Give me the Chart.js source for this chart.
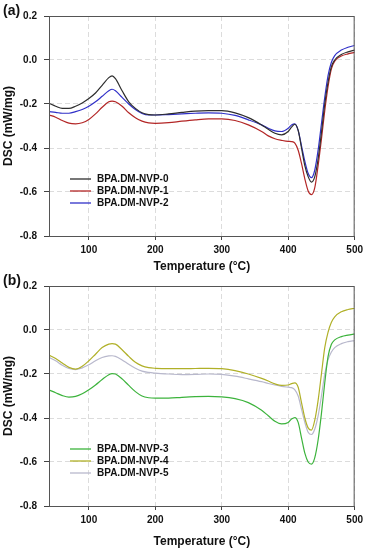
<!DOCTYPE html>
<html>
<head>
<meta charset="utf-8">
<script src="https://cdn.jsdelivr.net/npm/chart.js@4"></script>
<style>
  body { margin: 0; background: #fff; }
  canvas { position: absolute; left: 0; }
  #chartA { top: 0; }
  #chartB { top: 270px; }
</style>
</head>
<body>
<canvas id="chartA" width="367" height="275"></canvas>
<canvas id="chartB" width="367" height="280"></canvas>
<script>
const temps = [40, 50, 60, 70, 80, 90, 100, 110, 120, 130, 135, 140, 150, 160, 170, 180, 190, 200,
  220, 240, 260, 280, 300, 320, 340, 360, 370, 380, 390, 400, 405, 410, 415, 420, 425, 430, 435,
  440, 445, 450, 455, 460, 465, 470, 480, 490, 500];

const xTicks = [100, 200, 300, 400, 500];

const nvp0 = [-0.197, -0.21, -0.22, -0.22, -0.21, -0.195, -0.175, -0.15, -0.115, -0.08, -0.072, -0.085, -0.14, -0.19, -0.22, -0.24, -0.248, -0.25,
  -0.245, -0.238, -0.232, -0.23, -0.23, -0.24, -0.262, -0.295, -0.315, -0.333, -0.34, -0.325, -0.305, -0.292, -0.32, -0.4, -0.48, -0.53, -0.555,
  -0.53, -0.45, -0.33, -0.2, -0.1, -0.03, 0.0, 0.025, 0.037, 0.045];
const nvp1 = [-0.25, -0.26, -0.275, -0.287, -0.29, -0.285, -0.27, -0.245, -0.215, -0.19, -0.187, -0.19, -0.21, -0.24, -0.262, -0.278, -0.286, -0.288,
  -0.285, -0.278, -0.272, -0.268, -0.268, -0.275, -0.295, -0.325, -0.345, -0.358, -0.365, -0.37, -0.371, -0.378, -0.41, -0.47, -0.54, -0.595, -0.612,
  -0.58, -0.48, -0.36, -0.23, -0.12, -0.04, -0.005, 0.018, 0.028, 0.035];
const nvp2 = [-0.235, -0.238, -0.242, -0.242, -0.235, -0.225, -0.21, -0.19, -0.165, -0.14, -0.133, -0.14, -0.17, -0.2, -0.225, -0.243, -0.25, -0.25,
  -0.248, -0.245, -0.242, -0.24, -0.242, -0.252, -0.272, -0.295, -0.31, -0.322, -0.325, -0.31, -0.295, -0.29, -0.32, -0.39, -0.46, -0.515, -0.535,
  -0.5, -0.41, -0.29, -0.17, -0.07, -0.01, 0.02, 0.045, 0.058, 0.066];
const nvp3 = [-0.273, -0.285, -0.298, -0.305, -0.302, -0.29, -0.272, -0.25, -0.225, -0.203, -0.198, -0.2, -0.222, -0.252, -0.28, -0.3, -0.308, -0.31,
  -0.31, -0.306, -0.303, -0.302, -0.304, -0.312, -0.33, -0.365, -0.39, -0.415, -0.427, -0.42, -0.405, -0.398, -0.42, -0.49, -0.56, -0.6, -0.61,
  -0.58, -0.5, -0.38, -0.24, -0.12, -0.065, -0.045, -0.03, -0.023, -0.018];
const nvp4 = [-0.114, -0.13, -0.15, -0.17, -0.178, -0.165, -0.14, -0.11, -0.08, -0.064, -0.062, -0.064, -0.09, -0.12, -0.147, -0.163, -0.171, -0.174,
  -0.176, -0.176, -0.175, -0.174, -0.176, -0.185, -0.2, -0.22, -0.232, -0.245, -0.252, -0.25, -0.244, -0.24, -0.26, -0.33, -0.4, -0.445, -0.455,
  -0.41, -0.32, -0.2, -0.08, -0.01, 0.035, 0.06, 0.083, 0.093, 0.099];
const nvp5 = [-0.124, -0.14, -0.16, -0.175, -0.18, -0.172, -0.158, -0.14, -0.125, -0.118, -0.117, -0.12, -0.136, -0.156, -0.174, -0.187, -0.193, -0.196,
  -0.2, -0.203, -0.202, -0.2, -0.202, -0.21, -0.222, -0.235, -0.243, -0.25, -0.256, -0.26, -0.262, -0.272, -0.3, -0.36, -0.42, -0.465, -0.475,
  -0.45, -0.39, -0.3, -0.2, -0.135, -0.1, -0.08, -0.062, -0.053, -0.048];

const FONT = "'Liberation Sans', Arial, sans-serif";

// frame, in-plot legend and panel tag
const decor = {
  id: "decor",
  afterDraw(chart, args, opts) {
    const ctx = chart.ctx;
    const a = chart.chartArea;
    ctx.save();
    ctx.strokeStyle = "#555";
    ctx.lineWidth = 1;
    ctx.strokeRect(a.left + 0.5, a.top + 0.5, a.right - a.left - 1, a.bottom - a.top);

    ctx.font = "bold 10px " + FONT;
    ctx.textBaseline = "middle";
    ctx.textAlign = "left";
    chart.data.datasets.forEach((ds, i) => {
      const y = 179 + i * 12;
      ctx.strokeStyle = ds.borderColor;
      ctx.lineWidth = 1.3;
      ctx.beginPath();
      ctx.moveTo(70, y);
      ctx.lineTo(91, y);
      ctx.stroke();
      ctx.fillStyle = "#111";
      ctx.fillText(ds.label, 97, y + 0.5);
    });

    ctx.font = "bold 14px " + FONT;
    ctx.fillStyle = "#111";
    ctx.fillText(opts.tag, 3, 11);
    ctx.restore();
  }
};

function makeChart(id, tag, series, xHeight) {
  const datasets = series.map(s => ({
    label: s.label,
    data: temps.map((t, i) => ({ x: t, y: s.values[i] })),
    borderColor: s.color,
    borderWidth: 1.2,
    pointRadius: 0,
    tension: 0.4,
    cubicInterpolationMode: "monotone",
    fill: false
  }));

  return new Chart(document.getElementById(id), {
    type: "line",
    data: { datasets },
    options: {
      responsive: false,
      animation: false,
      layout: { padding: { top: 16, right: 12, left: 0, bottom: 0 } },
      plugins: {
        legend: { display: false },
        tooltip: { enabled: false },
        decor: { tag }
      },
      scales: {
        x: {
          type: "linear",
          min: 40,
          max: 500,
          afterBuildTicks: s => { s.ticks = xTicks.map(v => ({ value: v })); },
          afterFit: s => { s.height = xHeight; },
          ticks: { color: "#111", font: { family: FONT, size: 10, weight: "bold" }, padding: 4, maxRotation: 0 },
          grid: {
            color: "#dcdcdc",
            tickColor: "#444",
            tickLength: 4
          },
          border: { display: false, dash: [5, 3] },
          title: {
            display: true,
            text: "Temperature (°C)",
            color: "#111",
            font: { family: FONT, size: 12, weight: "bold" },
            padding: { top: 0, bottom: 1 }
          }
        },
        y: {
          min: -0.8,
          max: 0.2,
          afterFit: s => { s.width = 49; },
          ticks: {
            stepSize: 0.2,
            color: "#111",
            font: { family: FONT, size: 10, weight: "bold" },
            padding: 7,
            callback: v => v.toFixed(1)
          },
          grid: {
            color: ctx => (ctx.tick && (Math.abs(ctx.tick.value - 0.2) < 1e-6 || Math.abs(ctx.tick.value + 0.8) < 1e-6)) ? "rgba(0,0,0,0)" : "#dcdcdc",
            tickColor: "#444",
            tickLength: 5
          },
          border: { display: false, dash: [5, 3] },
          title: {
            display: true,
            text: "DSC (mW/mg)",
            color: "#111",
            font: { family: FONT, size: 12, weight: "bold" },
            padding: { top: 1, bottom: 0 }
          }
        }
      }
    },
    plugins: [decor]
  });
}

makeChart("chartA", "(a)", [
  { label: "BPA.DM-NVP-0", values: nvp0, color: "#2e2e2e" },
  { label: "BPA.DM-NVP-1", values: nvp1, color: "#b32626" },
  { label: "BPA.DM-NVP-2", values: nvp2, color: "#3030c8" }
], 39);

makeChart("chartB", "(b)", [
  { label: "BPA.DM-NVP-3", values: nvp3, color: "#3cb33c" },
  { label: "BPA.DM-NVP-4", values: nvp4, color: "#b0b028" },
  { label: "BPA.DM-NVP-5", values: nvp5, color: "#b8b8cc" }
], 44);
</script>
</body>
</html>
